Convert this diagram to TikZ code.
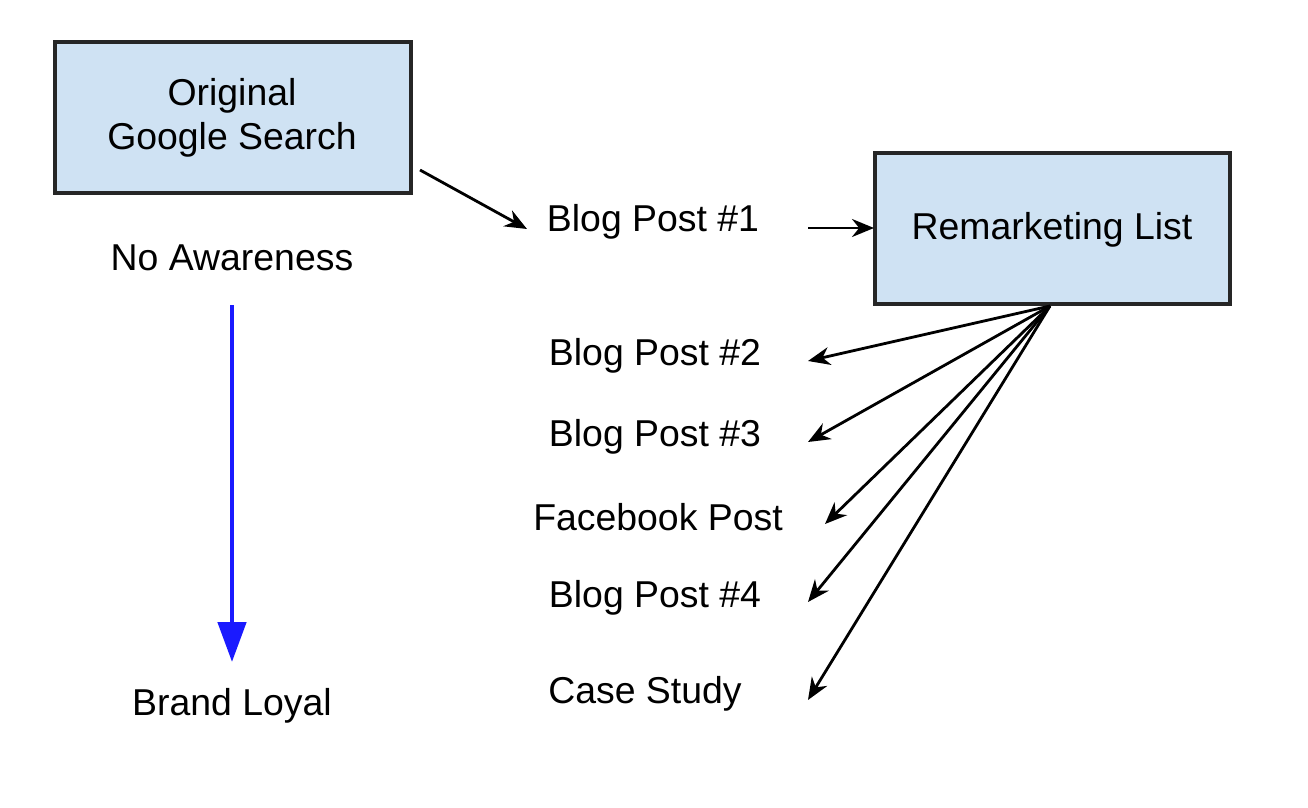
\documentclass[tikz,border=0pt]{standalone}
\usepackage{fontspec}
\setmainfont{Liberation Sans}
\usetikzlibrary{arrows.meta}
\definecolor{boxblue}{HTML}{CFE2F3}
\definecolor{arrblue}{HTML}{1A1AFF}
\begin{document}
\begin{tikzpicture}[x=0.5pt,y=-0.5pt,
  box/.style={draw=black!85,line width=1.6pt,fill=boxblue},
  lbl/.style={font=\fontsize{18.7pt}{22pt}\selectfont,align=center},
  arr/.style={line width=1.4pt,-{Stealth[length=11pt,width=9pt]}}]
\useasboundingbox (0,0) rectangle (1308,808);
\draw[box] (55,42) rectangle (411,193);
\draw[box] (875,153) rectangle (1230,304);
\node[lbl] (orig) at (232,118) {Original\\Google Search};
\node[lbl] (rem) at (1052,230) {Remarketing List};
\node[lbl] (noaw) at (232,258) {No Awareness};
\node[lbl] (brand) at (232,706) {Brand Loyal};
\node[lbl] (b1) at (653,222) {Blog Post \#1};
\node[lbl] (b2) at (655,356) {Blog Post \#2};
\node[lbl] (b3) at (655,437) {Blog Post \#3};
\node[lbl] (fb) at (658,517) {Facebook Post};
\node[lbl] (b4) at (655,598) {Blog Post \#4};
\node[lbl] (cs) at (645,694) {Case Study};
\coordinate (o1) at (420,170); \coordinate (i1) at (527,229);
\coordinate (o2) at (808,228); \coordinate (i2) at (874,228);
\coordinate (f) at (1050,306);
\coordinate (t2) at (808,361); \coordinate (t3) at (808,442);
\coordinate (t4) at (825,524); \coordinate (t5) at (808,602);
\coordinate (t6) at (808,700);
\coordinate (bs) at (232,305); \coordinate (be) at (232,662);
\draw[arr] (o1) -- (i1);
\draw[arr] (o2) -- (i2);
\foreach \t in {t2,t3,t4,t5,t6} \draw[arr] (f) -- (\t);
\draw[arrblue,line width=2.4pt,-{Triangle[length=20pt,width=14pt]}] (bs) -- (be);
\end{tikzpicture}
\end{document}
